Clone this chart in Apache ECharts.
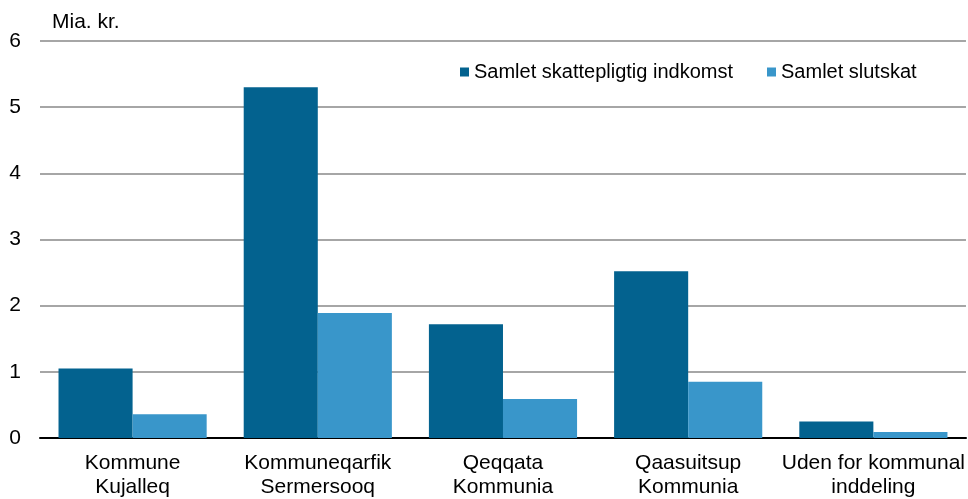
<!DOCTYPE html>
<html><head><meta charset="utf-8">
<script src="https://cdn.jsdelivr.net/npm/echarts@6/dist/echarts.min.js"></script>
<style>html,body{margin:0;padding:0;background:#fff}#c{width:968px;height:499px}</style>
</head><body><div id="c"></div>
<script>
const categories = ["Kommune\nKujalleq", "Kommuneqarfik\nSermersooq", "Qeqqata\nKommunia", "Qaasuitsup\nKommunia", "Uden for kommunal\ninddeling"];
const seriesNames = ["Samlet skattepligtig indkomst", "Samlet slutskat"];
const income = [1.05, 5.30, 1.72, 2.52, 0.25];
const tax = [0.36, 1.89, 0.59, 0.85, 0.09];
const yTicks = [0, 1, 2, 3, 4, 5, 6];
const font = "Liberation Sans, Arial, sans-serif";
const chart = echarts.init(document.getElementById('c'), null, {renderer: 'canvas'});
chart.setOption({
  animation: false,
  backgroundColor: '#ffffff',
  textStyle: {fontFamily: font},
  grid: {left: 40, right: 2, top: 41, bottom: 59, containLabel: false},
  legend: {
    left: 455, top: 57, itemWidth: 9, itemHeight: 9, itemGap: 34,
    icon: 'rect',
    textStyle: {fontSize: 20, color: '#000', fontFamily: font},
    data: seriesNames
  },
  graphic: [{type: 'text', left: 52, top: 12, style: {text: 'Mia. kr.', fontSize: 21, fill: '#000', fontFamily: font}}],
  xAxis: {
    type: 'category', data: categories,
    axisLine: {lineStyle: {color: '#000', width: 2}},
    axisTick: {show: false},
    axisLabel: {fontSize: 21, color: '#000', lineHeight: 24, margin: 13, interval: 0, fontFamily: font}
  },
  yAxis: {
    type: 'value', min: yTicks[0], max: yTicks[yTicks.length - 1], interval: 1,
    axisLine: {show: false}, axisTick: {show: false},
    axisLabel: {fontSize: 21, color: '#000', margin: 19, fontFamily: font},
    splitLine: {lineStyle: {color: '#a6a6a6', width: 2}}
  },
  series: [
    {name: seriesNames[0], type: 'bar', data: income, itemStyle: {color: '#03628f'}, barGap: '0%', barCategoryGap: '20%'},
    {name: seriesNames[1], type: 'bar', data: tax, itemStyle: {color: '#3996ca'}}
  ]
});
</script></body></html>
